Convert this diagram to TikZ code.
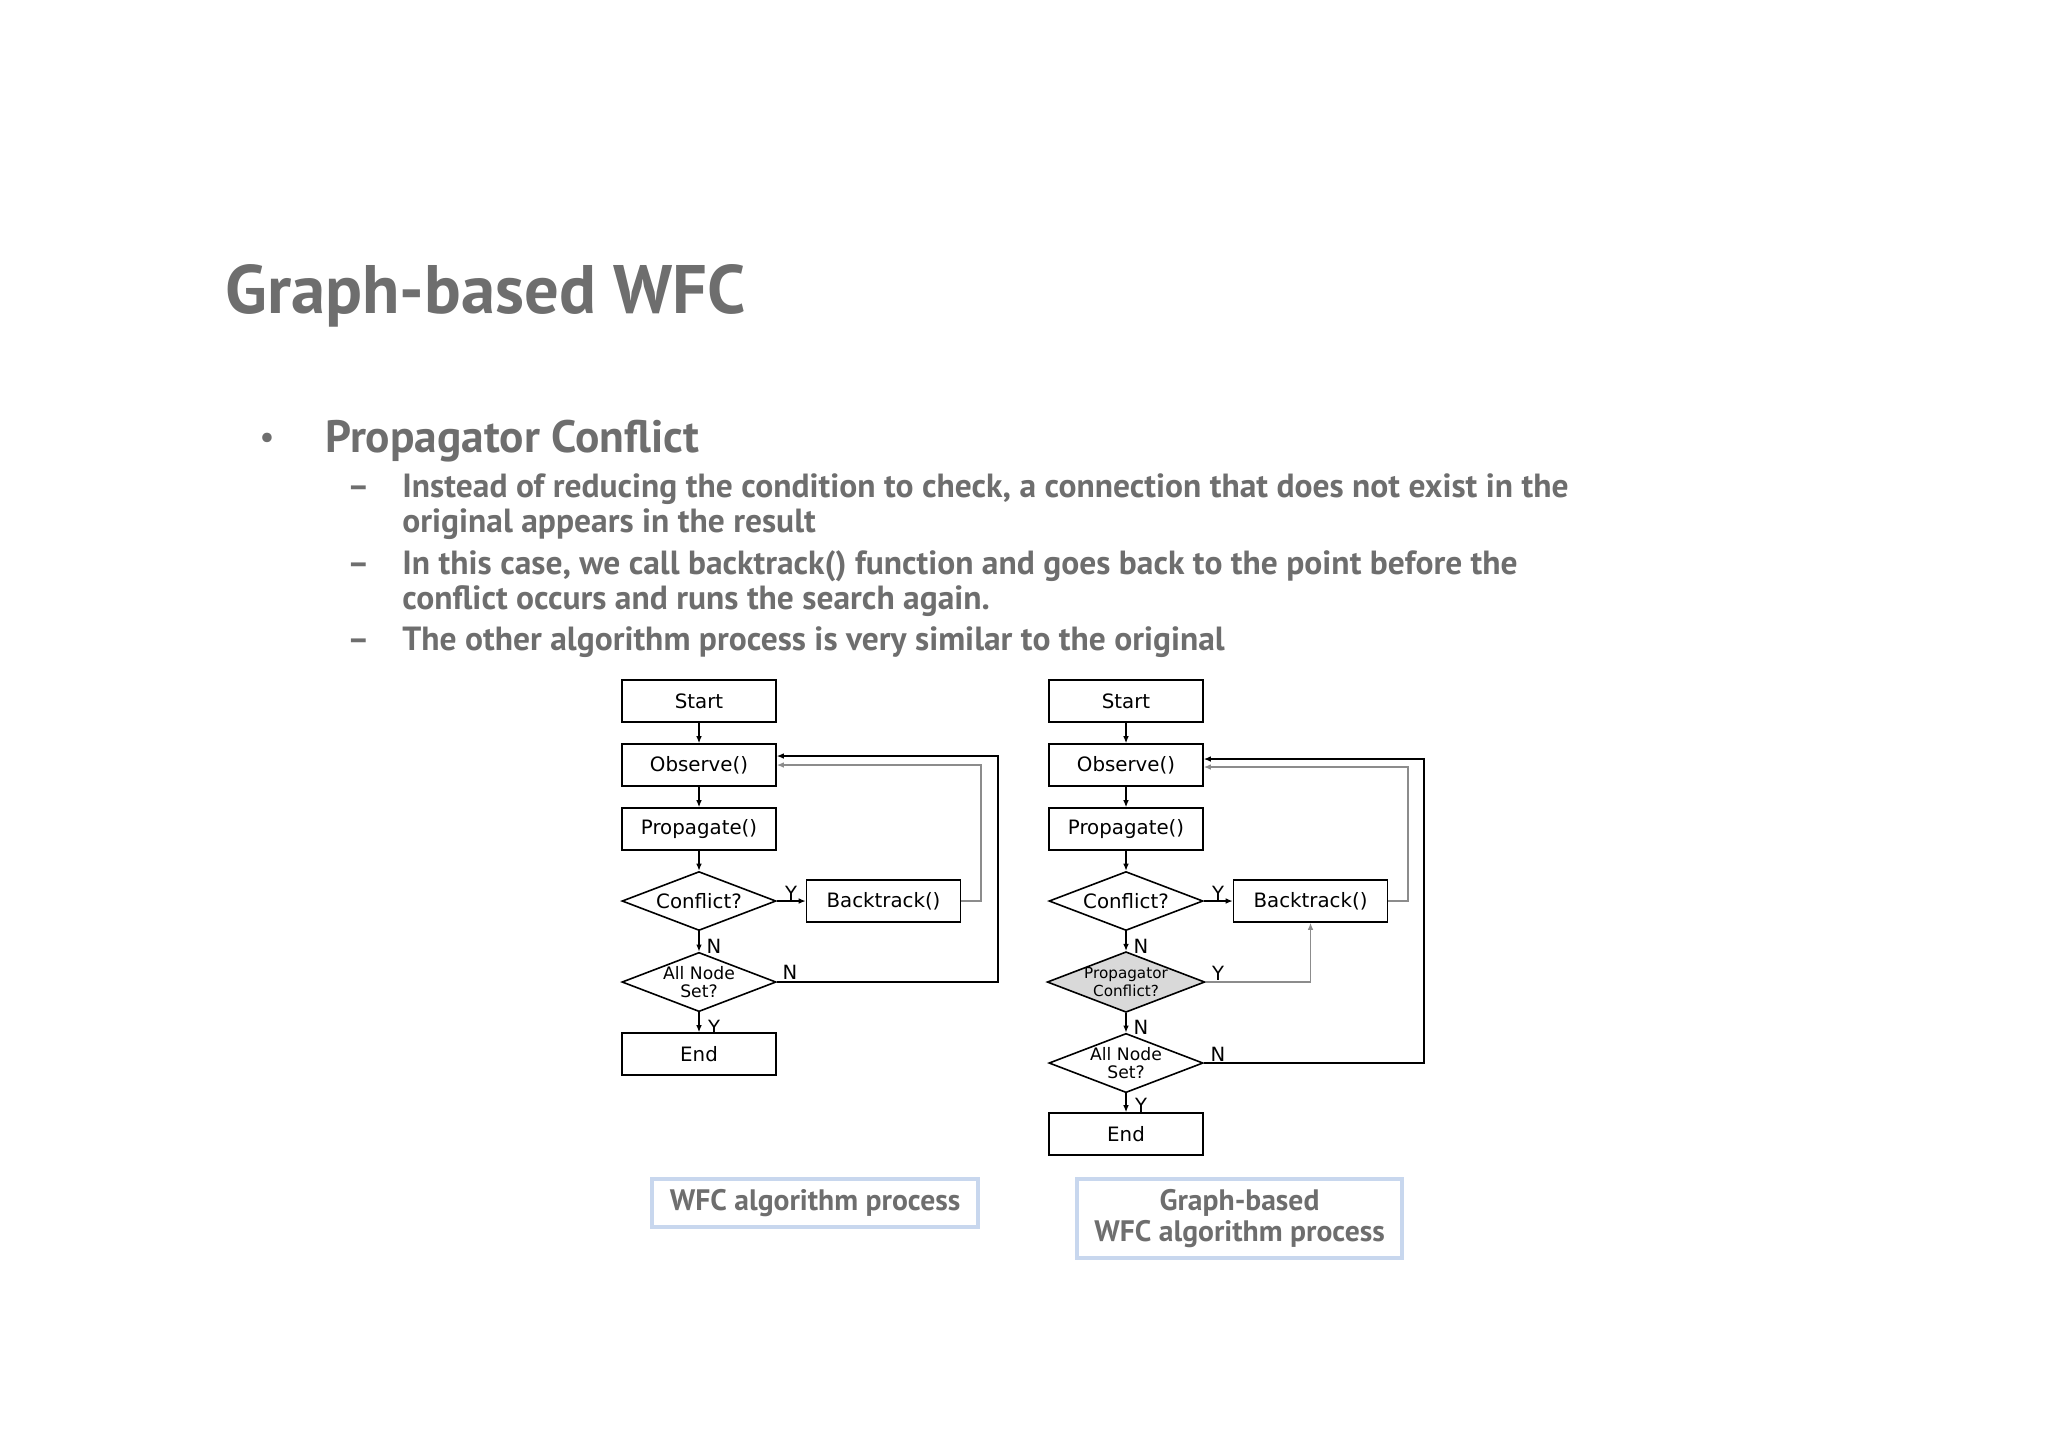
\documentclass[tikz,border=0pt]{standalone}
\usepackage{fontspec}
\setmainfont{PT Sans}
\newfontfamily\fcfont{DejaVu Sans}
\usetikzlibrary{shapes.geometric,arrows.meta}
\definecolor{txtgray}{HTML}{6E6E6E}
\definecolor{capblue}{HTML}{C8D7EE}
\definecolor{diafill}{HTML}{D9D9D9}
\definecolor{lingray}{HTML}{8C8C8C}
\begin{document}
\begin{tikzpicture}[x=0.5pt,y=-0.5pt,
  box/.style={draw, line width=0.8pt, minimum width=77pt, minimum height=21pt, inner sep=0pt, font=\fcfont\fontsize{9.9}{11}\selectfont},
  dia/.style={draw, diamond, aspect=2.6, line width=0.8pt, minimum width=77pt, minimum height=29.5pt, inner sep=0pt, align=center, font=\fcfont\fontsize{9.9}{11}\selectfont},
  dias/.style={dia, font=\fcfont\fontsize{8.6}{9.2}\selectfont},
  diat/.style={dia, fill=diafill, font=\fcfont\fontsize{7.6}{8.6}\selectfont},
  arr/.style={-{Latex[length=3.5pt,width=2.8pt]}, line width=0.6pt},
  garr/.style={arr, draw=lingray},
  lab/.style={font=\fcfont\fontsize{9.8}{11}\selectfont, inner sep=0pt},
  title/.style={anchor=base west, inner sep=0pt, text=txtgray, font=\bfseries\fontsize{34.3}{40}\selectfont},
  lvlone/.style={anchor=base west, inner sep=0pt, text=txtgray, font=\bfseries\fontsize{22.7}{26}\selectfont},
  bul/.style={anchor=base west, inner sep=0pt, text=txtgray, font=\fontsize{17}{20}\selectfont},
  lvltwo/.style={anchor=base west, inner sep=0pt, text=txtgray, font=\bfseries\fontsize{16.75}{17.5}\selectfont, align=left},
  caption/.style={draw=capblue, line width=2pt, inner sep=0pt, text=txtgray, align=center, font=\bfseries\fontsize{14.8}{15.5}\selectfont}
]
\useasboundingbox (0,0) rectangle (2048,1448);

% ---- text ----
\node[title] (ttl) at (225,313) {Graph-based WFC};
\node[bul] (b1) at (259,448) {•};
\node[lvlone] (t1) at (325,452) {Propagator Conflict};
\node[lvltwo] (d1) at (347,497) {–};
\node[lvltwo] (s1) at (402,532) {Instead of reducing the condition to check, a connection that does not exist in the\\original appears in the result};
\node[lvltwo] (d2) at (347,574) {–};
\node[lvltwo] (s2) at (402,609) {In this case, we call backtrack() function and goes back to the point before the\\conflict occurs and runs the search again.};
\node[lvltwo] (d3) at (347,650) {–};
\node[lvltwo] (s3) at (402,650) {The other algorithm process is very similar to the original};

% ---- left flowchart ----
\node[box] (st1) at (699,701) {Start};
\node[box] (ob1) at (699,765) {Observe()};
\node[box] (pr1) at (699,829) {Propagate()};
\node[dia] (cf1) at (699,901) {Conflict?};
\node[box] (bt1) at (883.5,901) {Backtrack()};
\node[dias] (an1) at (699,982) {All Node\\Set?};
\node[box] (en1) at (699,1054) {End};

\draw[arr] (st1) -- (ob1);
\draw[arr] (ob1) -- (pr1);
\draw[arr] (pr1) -- (cf1);
\draw[arr] (cf1) -- (bt1);
\draw[arr] (cf1) -- (an1);
\draw[arr] (an1) -- (en1);
\coordinate (lpa) at (998,756);
\coordinate (lpb) at (981,765);
\draw[arr] (an1.east) -- (an1.east -| lpa) -- (lpa) -- (lpa -| ob1.east);
\draw[garr] (bt1.east) -- (bt1.east -| lpb) -- (lpb) -- (ob1.east);

\node[lab] (y11) at (791,893) {Y};
\node[lab] (n11) at (714,946) {N};
\node[lab] (n12) at (790,972) {N};
\node[lab] (y12) at (714,1027) {Y};

% ---- right flowchart ----
\node[box] (st2) at (1126,701) {Start};
\node[box] (ob2) at (1126,765) {Observe()};
\node[box] (pr2) at (1126,829) {Propagate()};
\node[dia] (cf2) at (1126,901) {Conflict?};
\node[box] (bt2) at (1310.5,901) {Backtrack()};
\node[diat] (pc2) at (1126,982) {Propagator\\Conflict?};
\node[dias] (an2) at (1126,1063) {All Node\\Set?};
\node[box] (en2) at (1126,1134) {End};

\draw[arr] (st2) -- (ob2);
\draw[arr] (ob2) -- (pr2);
\draw[arr] (pr2) -- (cf2);
\draw[arr] (cf2) -- (bt2);
\draw[arr] (cf2) -- (pc2);
\draw[arr] (pc2) -- (an2);
\draw[arr] (an2) -- (en2);
\draw[garr] (pc2.east) -| (bt2.south);
\coordinate (lpc) at (1424,759);
\coordinate (lpd) at (1408,767);
\draw[arr] (an2.east) -- (an2.east -| lpc) -- (lpc) -- (lpc -| ob2.east);
\draw[garr] (bt2.east) -- (bt2.east -| lpd) -- (lpd) -- (lpd -| ob2.east);

\node[lab] (y21) at (1218,893) {Y};
\node[lab] (n21) at (1141,946) {N};
\node[lab] (y22) at (1218,973) {Y};
\node[lab] (n22) at (1141,1027) {N};
\node[lab] (n23) at (1218,1054) {N};
\node[lab] (y23) at (1141,1105) {Y};

% ---- captions ----
\node[caption, minimum width=163pt, minimum height=24pt] (c1) at (815,1203) {WFC algorithm process};
\node[caption, minimum width=162.5pt, minimum height=39.5pt] (c2) at (1239.5,1218.5) {Graph-based\\WFC algorithm process};
\end{tikzpicture}
\end{document}
